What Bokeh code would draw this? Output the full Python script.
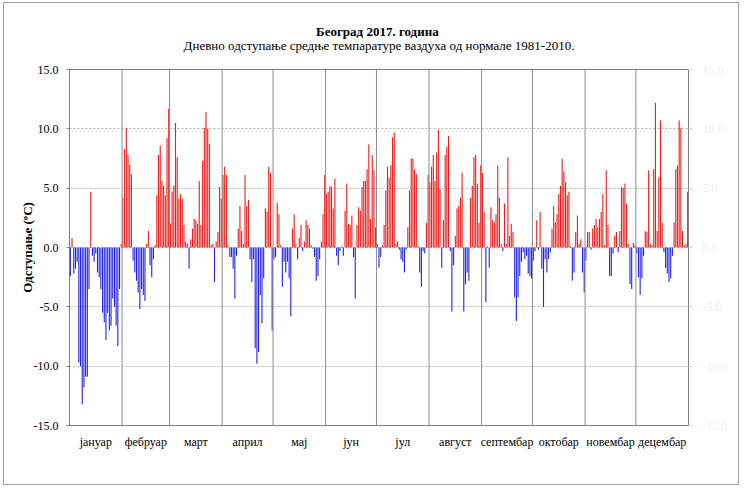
from bokeh.plotting import figure
from bokeh.models import (Range1d, FixedTicker, LinearAxis, Span, Title,
                          PrintfTickFormatter, ColumnDataSource)
from bokeh.embed import file_html
from bokeh.resources import INLINE

# ---------------- data ----------------
title_text = "Београд  2017. година"
subtitle_text = "Дневно одступање средње темпаратуре ваздуха од нормале 1981-2010."
month_names = ["јануар", "фебруар", "март", "април", "мај", "јун",
               "јул", "август", "септембар", "октобар", "новембар", "децембар"]
month_lengths = [31, 28, 31, 30, 31, 30, 31, 31, 30, 31, 30, 31]

jan = [-2.4, 0.8, -2.2, -1.8, -1.2, -9.7, -10.0, -13.2, -11.8, -10.9, -10.9, -3.5, 4.7, -0.7, -1.2, -0.5,
       -2.1, -2.5, -3.5, -5.5, -6.3, -7.8, -5.5, -7.0, -6.6, -4.3, -5.0, -6.6, -8.3, -3.5, 0.3]
feb = [4.2, 8.3, 10.1, 7.8, 7.0, 6.2, -1.1, -2.1, -2.8, -3.8, -5.2, -3.5, -4.0, -4.5, 0.3, 1.4,
       -1.5, -2.5, -1.0, 0.2, 4.4, 7.8, 8.6, 5.6, 5.2, 4.4, 9.2, 11.7]
mar = [2.0, 4.7, 5.2, 10.5, 7.6, 4.1, 4.5, 4.1, 1.9, 0.5, 0.3, -1.8, 0.7, 1.6, 2.4, 2.3,
       2.0, 5.6, 1.9, 7.3, 10.1, 11.4, 10.0, 8.7, 0.2, 0.3, -2.9, 0.5, 1.3, 5.1, 4.1]
apr = [6.1, 6.8, 6.1, 0.2, -0.8, -0.8, -1.8, -4.3, -0.7, 1.6, 3.5, 1.4, 0.3, 6.1, 3.5,
       4.0, -1.0, -2.9, -1.0, -8.5, -9.8, -8.8, -4.0, -6.4, -2.6, 3.3, 3.0, 6.8, 6.3, -7.0]
may = [-1.0, -0.8, 3.8, 2.8, 0.2, -3.3, -1.2, -2.1, -1.2, -2.6, -5.8, 1.6, 2.8, 0.3, -1.0, 0.8,
       1.9, -0.3, 0.5, 2.3, 1.9, 1.6, 0.2, -0.1, -0.8, -2.8, -2.4, -1.0, 0.5, 2.8, 6.1]
jun = [4.5, 4.7, 5.2, 5.1, 3.3, 5.8, -0.7, -1.5, -0.3, 0.1, -0.7, 3.1, 5.4, 2.0, 1.9,
       2.7, -0.8, -4.3, 1.9, 3.4, 3.1, 5.1, 5.6, 5.6, 6.6, 8.7, 2.4, 7.8, 6.5, 1.7]
jul = [0.3, -1.7, -0.8, 0.2, 1.9, 4.8, 6.8, 5.9, 6.9, 9.3, 9.7, 0.3, 0.5, -0.2, -1.0, -1.2,
       -2.1, -0.2, 1.7, 4.8, 7.5, 7.5, 6.6, 6.2, 0.1, -2.1, -3.3, -0.3, -0.5, 2.1, 6.1]
aug = [5.5, 6.8, 7.8, 5.6, 8.0, 9.9, 4.9, -1.7, 2.3, 7.8, 8.5, 9.4, -0.3, -5.4, -1.5, 1.0,
       3.3, 3.5, 4.2, 6.3, -5.4, -3.1, -2.1, -2.8, 4.2, 5.2, 7.6, 7.8, 5.4, 2.1, 6.9]
sep = [6.3, 3.0, -4.6, 0.1, -1.7, 3.4, 2.3, 2.1, 2.8, 6.9, 4.2, 0.3, -0.3, 3.7, 0.3,
       7.6, 1.0, 2.0, 1.3, -4.2, -6.2, -4.2, -2.4, -1.2, -0.4, -1.0, -0.7, -2.2, -2.4, -2.6]
oct_ = [-1.1, -0.3, 2.3, -0.2, 3.0, -1.8, -5.0, -1.0, -2.1, -1.0, -0.4, 1.6, 3.5, 2.1, 2.8, 4.5,
        5.2, 7.5, 6.4, 5.5, 4.4, 4.7, 0.1, -2.8, -2.1, 1.3, 2.7, 0.3, 0.7, -2.1, -3.8]
nov = [-1.1, 1.3, 1.3, -0.2, 1.6, 1.9, 2.4, 1.7, 2.4, 3.0, 4.5, 0.2, 6.5, 1.9, -2.4,
       -2.4, -0.5, 1.0, 1.3, -0.4, 1.4, 5.1, 5.0, 5.4, 3.7, 0.3, -3.1, -3.5, 0.4, 0.2]
dec = [-0.5, -2.5, -4.0, -2.6, -0.7, 1.4, 1.3, 6.5, 0.3, 0.2, 6.6, 12.2, 1.4, 5.9, 10.7, 2.1,
       -0.4, -1.7, -2.2, -2.9, -2.6, -0.7, 2.1, 6.6, 6.9, 10.7, 10.1, 1.4, 0.2, 0.3, 4.7]

y_ticks = [-15, -10, -5, 0, 5, 10, 15]

# ---------------- build ----------------
values = jan + feb + mar + apr + may + jun + jul + aug + sep + oct_ + nov + dec
days = list(range(1, len(values) + 1))
RED = "#ee1c1c"
BLUE = "#2323e6"
colors = [RED if v >= 0 else BLUE for v in values]
src = ColumnDataSource(dict(day=days, val=values, color=colors))

starts = []
acc = 0
for n in month_lengths:
    starts.append(acc)
    acc += n
centers = []
for s, n in zip(starts, month_lengths):
    c = s + 0.5 + n / 2
    centers.append(int(c) if c == int(c) else c)

SERIF = "Liberation Serif"

p = figure(width=736, height=483, title=None,
           x_range=Range1d(0.5, 365.5), y_range=Range1d(-15, 15),
           output_backend="svg", toolbar_location=None,
           min_border_left=65, min_border_right=52,
           min_border_top=66, min_border_bottom=61)
p.styles = {"border": "1px solid #a0a0a0", "margin-left": "3px", "margin-top": "2px"}
p.outline_line_color = "#808080"
p.outline_line_width = 1

p.vbar(x="day", top="val", bottom=0, width=0.65, fill_color="color",
       line_color=None, source=src)

# grid
p.xgrid.visible = False
p.ygrid.ticker = FixedTicker(ticks=y_ticks)
p.ygrid.grid_line_color = "#b4b4b4"
p.ygrid.grid_line_dash = "2 2"

# month separators
for s in starts[1:]:
    p.add_layout(Span(location=s + 0.5, dimension="height",
                      line_color="#8c8c8c", line_width=1))

# x axis: month names
xa = p.xaxis[0]
xa.ticker = FixedTicker(ticks=centers)
xa.major_label_overrides = {c: name for c, name in zip(centers, month_names)}
xa.major_tick_line_color = None
xa.minor_tick_line_color = None
xa.axis_line_color = None
xa.major_label_standoff = 3
xa.major_label_text_font = SERIF
xa.major_label_text_font_size = "12px"
xa.major_label_text_color = "black"

# left y axis
ya = p.yaxis[0]
ya.ticker = FixedTicker(ticks=y_ticks)
ya.formatter = PrintfTickFormatter(format="%.1f")
ya.axis_line_color = None
ya.major_tick_in = 0
ya.major_tick_out = 3
ya.major_tick_line_color = "#808080"
ya.minor_tick_line_color = None
ya.major_label_standoff = 8
ya.major_label_text_font = SERIF
ya.major_label_text_font_size = "12px"
ya.major_label_text_color = "black"
ya.axis_label = "Одступање (ºC)"
ya.axis_label_text_font = SERIF
ya.axis_label_text_font_size = "13px"
ya.axis_label_text_font_style = "bold"
ya.axis_label_text_color = "black"
ya.axis_label_standoff = -4

# right y axis (very faint labels)
ra = LinearAxis(ticker=FixedTicker(ticks=y_ticks),
                formatter=PrintfTickFormatter(format="%.1f"))
ra.axis_line_color = None
ra.major_tick_in = 0
ra.major_tick_out = 4
ra.major_tick_line_color = "#d0d0d0"
ra.minor_tick_line_color = None
ra.major_label_standoff = 10
ra.major_label_text_font = SERIF
ra.major_label_text_font_size = "12px"
ra.major_label_text_color = "#f0f0f0"
p.add_layout(ra, "right")

# titles
sub = Title(text=subtitle_text, align="center", offset=-5, text_font=SERIF,
            text_font_size="13px", text_font_style="normal", text_color="black",
            standoff=33)
p.add_layout(sub, "above")
main = Title(text=title_text, align="center", offset=-6, text_font=SERIF,
             text_font_size="13px", text_font_style="bold", text_color="black",
             standoff=-39)
p.add_layout(main, "above")

open("out.html", "w").write(file_html(p, INLINE))
